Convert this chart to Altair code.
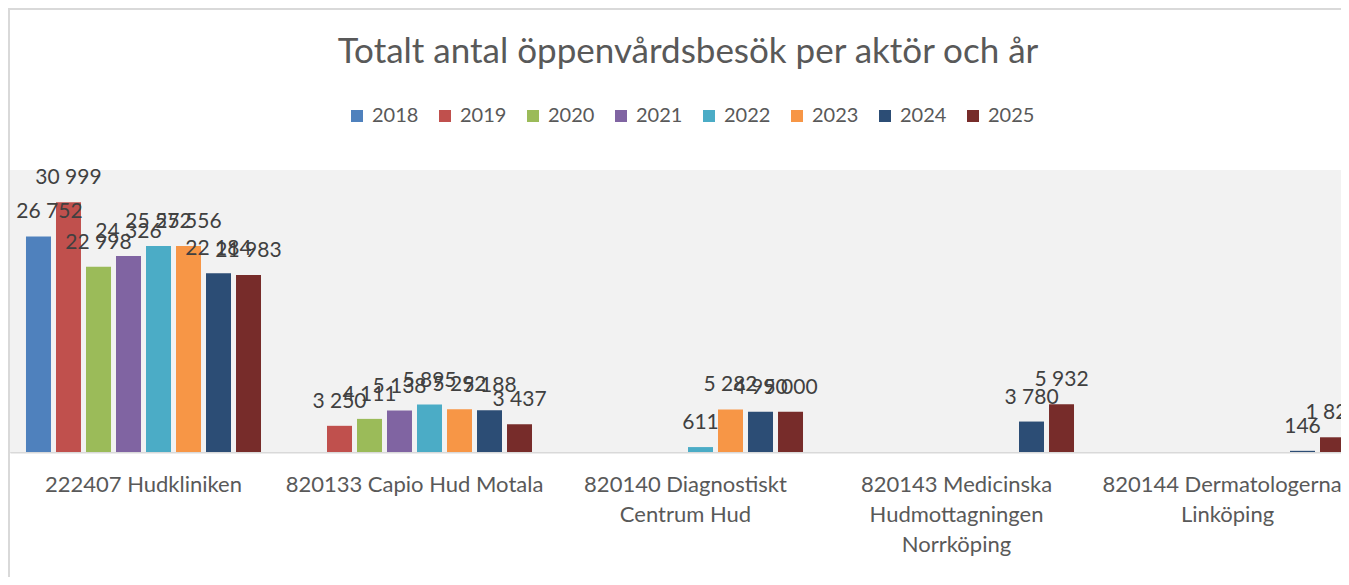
import altair as alt
import pandas as pd

title_text = "Totalt antal öppenvårdsbesök per aktör och år"
years = ["2018", "2019", "2020", "2021", "2022", "2023", "2024", "2025"]
colors = ["#4F81BD", "#C0504D", "#9BBB59", "#8064A2", "#4BACC6", "#F79646", "#2C4D75", "#772C2A"]
categories = [
    "222407 Hudkliniken",
    "820133 Capio Hud Motala",
    "820140 Diagnostiskt Centrum Hud",
    "820143 Medicinska Hudmottagningen Norrköping",
    "820144 Dermatologerna i Linköping",
]
wrapped = [
    ["222407 Hudkliniken"],
    ["820133 Capio Hud Motala"],
    ["820140 Diagnostiskt", "Centrum Hud"],
    ["820143 Medicinska", "Hudmottagningen", "Norrköping"],
    ["820144 Dermatologerna i", "Linköping"],
]
hudkliniken = [26752, 30999, 22998, 24326, 25572, 25556, 22184, 21983]
capio = [None, 3250, 4111, 5138, 5895, 5292, 5188, 3437]
diagnostiskt = [None, None, None, None, 611, 5282, 4990, 5000]
medicinska = [None, None, None, None, None, None, 3780, 5932]
dermatologerna = [None, None, None, None, None, None, 146, 1827]

series = [hudkliniken, capio, diagnostiskt, medicinska, dermatologerna]
rows = []
for cat, vals in zip(categories, series):
    for yr, v in zip(years, vals):
        if v is not None:
            rows.append({"aktor": cat, "ar": yr, "besok": v})
df = pd.DataFrame(rows)

FONT = "Lato"

# label expression for wrapped category names
expr = "datum.label"
for cat, lines in reversed(list(zip(categories, wrapped))):
    arr = "[" + ",".join("'" + l + "'" for l in lines) + "]"
    expr = f"datum.label == '{cat}' ? {arr} : ({expr})"

base = alt.Chart(df)

x_enc = alt.X("aktor:N", sort=categories,
              scale=alt.Scale(domain=categories, range=[0, 1351], paddingInner=0.1144, paddingOuter=0.0498),
              axis=alt.Axis(title=None, labelAngle=0, labelExpr=expr, labelFontSize=22,
                            labelColor="#595959", labelFont=FONT, labelPadding=22,
                            labelBaseline="top", labelLineHeight=30, ticks=False,
                            domainColor="#d9d9d9", domainWidth=2, grid=False, labelLimit=400))
xo_enc = alt.XOffset("ar:N", sort=years,
                     scale=alt.Scale(domain=years, paddingInner=0.167, paddingOuter=0.083))

bars = base.mark_bar().encode(
    x=x_enc,
    xOffset=xo_enc,
    y=alt.Y("besok:Q", scale=alt.Scale(domain=[0, 35000]), axis=None),
    color=alt.Color("ar:N", sort=years, scale=alt.Scale(domain=years, range=colors),
                    legend=alt.Legend(title=None, orient="none", legendX=337, legendY=-64,
                                      direction="horizontal", columns=8, symbolType="square",
                                      symbolSize=144, symbolStrokeWidth=0, labelFontSize=20,
                                      labelFont=FONT, labelColor="#595959", columnPadding=16,
                                      labelOffset=5)),
)

lbl_base = base.transform_calculate(
    lbl="replace(format(datum.besok, ','), ',', ' ')",
    edge="datum.aktor == '" + categories[0] + "' && datum.ar == '" + years[0] + "'",
)
lbl_enc = dict(
    x=alt.X("aktor:N", sort=categories),
    xOffset=alt.XOffset("ar:N", sort=years),
    y=alt.Y("besok:Q"),
    text="lbl:N",
)
labels = lbl_base.transform_filter("!datum.edge").mark_text(
    baseline="alphabetic", dy=-18, fontSize=21, font=FONT, color="#404040").encode(**lbl_enc)
labels_edge = lbl_base.transform_filter("datum.edge").mark_text(
    baseline="alphabetic", dy=-18, dx=11, fontSize=21, font=FONT, color="#404040").encode(**lbl_enc)

title = alt.Chart(pd.DataFrame({"t": [title_text]})).mark_text(
    fontSize=35, font=FONT, color="#595959", baseline="middle", align="center"
).encode(text="t:N", x=alt.value(678), y=alt.value(-118))

plot_bg = alt.Chart(pd.DataFrame({"t": [0]})).mark_rect(color="#f2f2f2").encode(
    x=alt.value(0), x2=alt.value(1345), y=alt.value(0), y2=alt.value(282))
frame_left = alt.Chart(pd.DataFrame({"t": [0]})).mark_rule(color="#d9d9d9", strokeWidth=2).encode(
    x=alt.value(-1), y=alt.value(-161), y2=alt.value(460))
frame_top = alt.Chart(pd.DataFrame({"t": [0]})).mark_rule(color="#d9d9d9", strokeWidth=2).encode(
    x=alt.value(-2), x2=alt.value(1345), y=alt.value(-161))

chart = alt.layer(plot_bg, frame_left, frame_top, bars, labels, labels_edge, title).properties(
    width=1331, height=282,
    autosize=alt.AutoSizeParams(type="none"),
    padding={"left": 2, "top": 162, "right": 0, "bottom": 125},
).configure_view(fill="#f2f2f2", stroke="transparent", strokeWidth=0).configure(background="white")

chart.save("out.html", embed_options={"renderer": "svg", "actions": False})
